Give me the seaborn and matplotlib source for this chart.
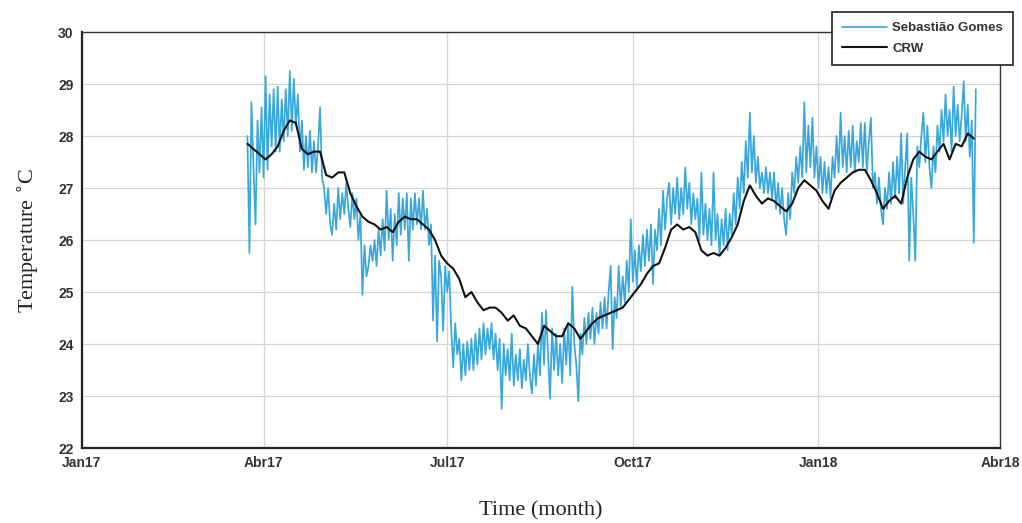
import numpy as np
import pandas as pd
import matplotlib
matplotlib.use("Agg")
import matplotlib.pyplot as plt
import seaborn as sns

# ---- data ----
sg_start = "2017-03-24"   # Sebastião Gomes, daily readings
sg_values = [
    28.0, 25.75, 28.65, 27.4, 26.3, 28.3, 27.3, 28.55, 27.2, 29.15, 27.35, 28.8,
    27.8, 28.9, 27.7, 28.95, 27.7, 28.7, 27.9, 28.9, 28.0, 29.25, 28.1, 29.1,
    28.2, 28.8, 27.7, 28.3, 27.35, 28.0, 27.4, 28.1, 27.3, 27.9, 27.3, 27.8,
    28.55, 27.2, 27.0, 26.5, 27.0, 26.3, 26.1, 26.7, 26.2, 27.0, 26.4, 26.9,
    26.5, 27.1, 26.6, 26.25, 26.9, 26.4, 26.8, 26.0, 26.5, 24.95, 25.9, 25.3,
    25.5, 25.9, 25.6, 26.0, 25.5, 26.2, 25.7, 26.4, 25.8, 26.95, 26.0, 26.6,
    25.6, 26.5, 25.9, 26.9, 26.1, 26.8, 26.2, 26.9, 25.6, 26.8, 26.2, 26.9,
    26.3, 26.8, 26.2, 26.95, 26.2, 26.6, 25.9, 26.3, 24.45, 25.7, 24.05, 25.6,
    25.3, 24.25, 25.5, 25.0, 25.4, 24.3, 23.55, 24.4, 23.8, 24.1, 23.3, 24.0,
    23.4, 24.05, 23.5, 24.1, 23.5, 24.2, 23.6, 24.3, 23.7, 24.4, 23.8, 24.3,
    23.9, 24.4, 23.7, 24.2, 23.5, 24.1, 22.75, 24.0, 23.4, 23.9, 23.3, 24.2,
    23.2, 23.8, 23.3, 23.9, 23.15, 23.7, 23.3, 24.0, 23.4, 23.05, 23.8, 23.2,
    24.0, 23.4, 24.6, 23.6, 24.65, 23.8, 22.95, 24.3, 23.5, 24.2, 23.4, 24.0,
    23.25, 24.3, 23.6, 24.4, 23.4, 25.1, 24.0, 23.6, 22.9, 24.2, 23.8, 24.5,
    24.0, 24.6, 24.1, 24.7, 24.0, 24.6, 24.2, 24.8, 24.3, 24.9, 24.3, 25.0,
    25.5, 23.9, 24.9, 24.5, 25.5, 24.7, 25.3, 24.8, 25.6, 25.0, 26.4, 25.2,
    25.8, 25.1, 25.9, 25.4, 26.1, 25.5, 26.2, 25.6, 26.3, 25.15, 26.2, 25.8,
    26.6, 25.9, 26.95, 26.2, 26.8, 27.1, 26.3, 27.0, 26.5, 27.2, 26.4, 27.0,
    26.5, 27.4, 26.6, 27.1, 26.3, 26.9, 26.4, 26.8, 26.0, 27.3, 26.1, 26.7,
    26.0, 26.6, 25.9, 27.3, 26.0, 26.5, 25.7, 26.4, 25.9, 26.6, 25.8, 26.5,
    26.1, 26.9, 26.3, 27.2, 26.6, 27.5, 26.9, 27.9, 27.2, 28.45, 27.3, 28.0,
    27.1, 27.6, 27.0, 27.3, 26.9, 27.4, 26.9, 27.3, 26.8, 27.3, 26.6, 27.1,
    26.5, 27.0, 26.4, 26.1, 26.9, 26.4, 27.3, 26.9, 27.6, 27.1, 27.8, 27.2,
    28.65, 27.3, 28.2, 27.4, 28.35, 27.2, 27.8, 27.0, 27.6, 26.9, 27.5, 26.9,
    27.4, 26.8, 27.6, 27.2, 28.0, 27.3, 28.45, 27.4, 28.0, 27.3, 28.1, 27.4,
    28.2, 27.3, 27.9, 27.5, 28.25, 27.4, 28.25, 27.3, 27.9, 28.35, 27.0, 27.3,
    26.7, 27.2, 26.6, 26.3, 27.0, 26.6, 27.3, 26.7, 27.5, 26.8, 27.6, 26.9,
    28.05, 26.7, 27.4, 28.05, 25.6, 27.2, 26.5, 25.6, 27.8, 27.4, 28.0, 28.45,
    27.5, 28.2, 27.4, 27.0, 27.8, 27.3, 28.2, 27.7, 28.5, 27.9, 28.8, 28.0,
    28.5, 27.7, 28.95, 28.0, 28.6, 27.9, 28.4, 29.05, 27.9, 28.6, 27.6, 28.3,
    25.95, 28.9,
]

crw_start = "2017-03-24"  # CRW, one reading every 3 days
crw_values = [
    27.85, 27.75, 27.65, 27.55, 27.65, 27.8, 28.1, 28.3, 28.25, 27.75,
    27.65, 27.7, 27.7, 27.25, 27.2, 27.3, 27.3, 26.9, 26.65, 26.45,
    26.35, 26.3, 26.2, 26.25, 26.15, 26.35, 26.45, 26.4, 26.4, 26.3,
    26.2, 26.0, 25.7, 25.55, 25.45, 25.25, 24.9, 25.0, 24.8, 24.65,
    24.7, 24.7, 24.6, 24.45, 24.55, 24.35, 24.3, 24.15, 24.0, 24.35,
    24.25, 24.15, 24.15, 24.4, 24.3, 24.1, 24.25, 24.4, 24.5, 24.55,
    24.6, 24.65, 24.7, 24.85, 25.0, 25.15, 25.35, 25.5, 25.55, 25.85,
    26.2, 26.3, 26.2, 26.25, 26.15, 25.8, 25.7, 25.75, 25.7, 25.85,
    26.05, 26.3, 26.75, 27.05, 26.85, 26.7, 26.8, 26.75, 26.65, 26.55,
    26.7, 27.0, 27.15, 27.05, 26.95, 26.75, 26.6, 26.95, 27.1, 27.2,
    27.3, 27.35, 27.35, 27.15, 26.9, 26.6, 26.75, 26.85, 26.7, 27.2,
    27.55, 27.7, 27.6, 27.55, 27.7, 27.85, 27.55, 27.85, 27.8, 28.05,
    27.95,
]

tick_dates = ["2017-01-01", "2017-04-01", "2017-07-01", "2017-10-01", "2018-01-01", "2018-04-01"]
tick_labels = ["Jan17", "Abr17", "Jul17", "Oct17", "Jan18", "Abr18"]
y_ticks = [22, 23, 24, 25, 26, 27, 28, 29, 30]

sg_df = pd.DataFrame({"date": pd.date_range(sg_start, periods=len(sg_values), freq="D"),
                      "temp": sg_values})
crw_df = pd.DataFrame({"date": pd.date_range(crw_start, periods=len(crw_values), freq="3D"),
                       "temp": crw_values})

# ---- style ----
sns.set_theme(style="whitegrid")
plt.rcParams["font.family"] = ["Liberation Sans", "DejaVu Sans"]

fig = plt.figure(figsize=(10.22, 5.23), dpi=100)
ax = fig.add_axes([0.0802, 0.1434, 0.8983, 0.7954])

sns.lineplot(data=sg_df, x="date", y="temp", ax=ax, color="#38a8dc",
             linewidth=1.25, estimator=None, label="Sebastião Gomes")
sns.lineplot(data=crw_df, x="date", y="temp", ax=ax, color="#111111",
             linewidth=1.5, estimator=None, label="CRW")

ax.set_xlim(pd.Timestamp(tick_dates[0]), pd.Timestamp(tick_dates[-1]))
ax.set_ylim(22, 30)
ax.set_xticks(pd.to_datetime(tick_dates))
ax.set_xticklabels(tick_labels)
ax.set_yticks(y_ticks)
ax.set_yticklabels([str(v) for v in y_ticks])

ax.grid(True, color="#d4d4d4", linewidth=0.9)
ax.set_facecolor("white")
for side, sp in ax.spines.items():
    sp.set_color("#333333")
    sp.set_linewidth(1.0)
ax.spines["left"].set_linewidth(1.6)
ax.spines["bottom"].set_linewidth(1.6)
ax.spines["left"].set_color("#222222")
ax.spines["bottom"].set_color("#222222")

ax.tick_params(axis="both", direction="in", length=4, width=0.8, colors="#222222",
               labelsize=10, pad=6)
ax.tick_params(axis="x", pad=6)
for lab in ax.get_xticklabels() + ax.get_yticklabels():
    lab.set_fontweight("bold")
    lab.set_color("#333333")

ax.set_xlabel("Time (month)", family=["Liberation Serif", "DejaVu Serif"],
              fontsize=16, color="#222222", labelpad=22)
ax.set_ylabel("Temperature $^{\\circ}$C", family=["Liberation Serif", "DejaVu Serif"],
              fontsize=16, color="#222222", labelpad=12)

leg = ax.legend(loc="upper right", bbox_to_anchor=(0.991, 0.977),
                bbox_transform=fig.transFigure, frameon=True, fancybox=False,
                edgecolor="#333333", fontsize=9.5, handlelength=3.4,
                borderpad=0.75, labelspacing=0.65, handletextpad=0.4,
                borderaxespad=0.0)
leg.get_frame().set_linewidth(1.3)
leg.get_frame().set_facecolor("white")
leg.get_frame().set_alpha(1.0)
for t in leg.get_texts():
    t.set_fontweight("bold")
    t.set_color("#333333")
leg.set_zorder(10)

fig.savefig("out.png", dpi=100, facecolor="white")
